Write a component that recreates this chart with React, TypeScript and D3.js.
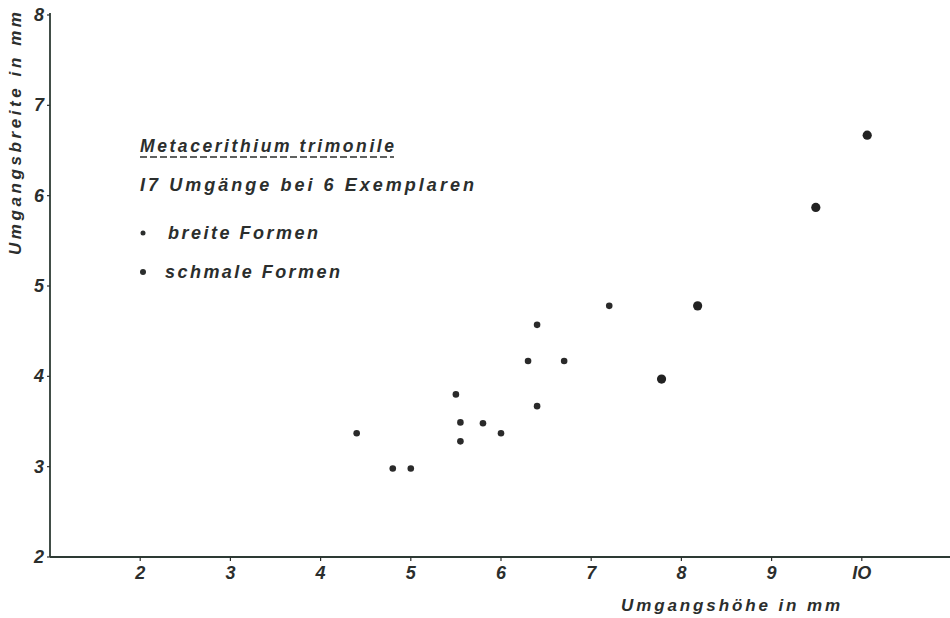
import React from "react";
import * as d3 from "d3";

// breite Formen (small dots)
const breiteX = [4.4, 4.8, 5.0, 5.5, 5.55, 5.55, 5.8, 6.0, 6.3, 6.4, 6.4, 6.7, 7.2];
const breiteY = [3.37, 2.98, 2.98, 3.8, 3.49, 3.28, 3.48, 3.37, 4.17, 4.57, 3.67, 4.17, 4.78];
// schmale Formen (large dots)
const schmaleX = [7.78, 8.18, 9.49, 10.06];
const schmaleY = [3.97, 4.78, 5.87, 6.67];

const xTicks = [2, 3, 4, 5, 6, 7, 8, 9, 10];
const xTickLabels = ["2", "3", "4", "5", "6", "7", "8", "9", "IO"];
const yTicks = [2, 3, 4, 5, 6, 7, 8];

const W = 950;
const H = 618;
const FONT = "'Liberation Sans', Arial, sans-serif";
const INK = "#2b2e2d";

export default function App() {
  const x = d3.scaleLinear().domain([1, 11]).range([50, 952]);
  const y = d3.scaleLinear().domain([2, 8]).range([557, 15]);
  const x0 = x(1);
  const y0 = y(2);

  const textStyle = {
    fontFamily: FONT,
    fontStyle: "italic" as const,
    fontWeight: "bold" as const,
    fill: INK,
  };

  return (
    <svg
      width={W}
      height={H}
      style={{ position: "absolute", left: 0, top: 0, background: "#fff" }}
    >
      <rect x={0} y={0} width={W} height={H} fill="#fff" />
      {/* axes */}
      <line x1={x0} x2={x0} y1={y(8) - 2} y2={y0} stroke="#2d3a34" strokeWidth={1.8} />
      <line x1={x0} x2={W} y1={y0} y2={y0} stroke="#2d3a34" strokeWidth={1.8} />
      {yTicks.map((t) => (
        <g key={"y" + t}>
          <line x1={x0 - 3} x2={x0} y1={y(t)} y2={y(t)} stroke={INK} strokeWidth={1.2} />
          <text x={x0 - 6} y={y(t) + 6} textAnchor="end" fontSize={18} style={textStyle}>
            {t}
          </text>
        </g>
      ))}
      {xTicks.map((t, i) => (
        <g key={"x" + t}>
          <line x1={x(t)} x2={x(t)} y1={y0} y2={y0 + 4} stroke={INK} strokeWidth={1.2} />
          <text x={x(t)} y={y0 + 22} textAnchor="middle" fontSize={18} style={textStyle}>
            {xTickLabels[i]}
          </text>
        </g>
      ))}
      {/* axis titles */}
      <text
        transform="translate(21,255) rotate(-90)"
        fontSize={17}
        textLength={243}
        lengthAdjust="spacing"
        style={textStyle}
      >
        Umgangsbreite in mm
      </text>
      <text x={621} y={611} fontSize={17} textLength={219} lengthAdjust="spacing" style={textStyle}>
        Umgangshöhe in mm
      </text>

      {/* legend */}
      <text x={140} y={152} fontSize={17.5} textLength={254} lengthAdjust="spacing" style={textStyle}>
        Metacerithium trimonile
      </text>
      <line
        x1={140}
        x2={394}
        y1={157}
        y2={157}
        stroke={INK}
        strokeWidth={1.3}
        strokeDasharray="7 3"
      />
      <text x={140} y={191} fontSize={18} textLength={334} lengthAdjust="spacing" style={textStyle}>
        I7 Umgänge bei 6 Exemplaren
      </text>
      <circle cx={143} cy={233} r={2.5} fill={INK} />
      <text x={168} y={239} fontSize={18} textLength={150} lengthAdjust="spacing" style={textStyle}>
        breite Formen
      </text>
      <circle cx={143} cy={272} r={3} fill={INK} />
      <text x={165} y={278} fontSize={18} textLength={175} lengthAdjust="spacing" style={textStyle}>
        schmale Formen
      </text>

      {/* points */}
      {breiteX.map((v, i) => (
        <circle key={"b" + i} cx={x(v)} cy={y(breiteY[i])} r={3.3} fill="#2a2a2a" />
      ))}
      {schmaleX.map((v, i) => (
        <circle key={"s" + i} cx={x(v)} cy={y(schmaleY[i])} r={4.6} fill="#222" />
      ))}
    </svg>
  );
}
